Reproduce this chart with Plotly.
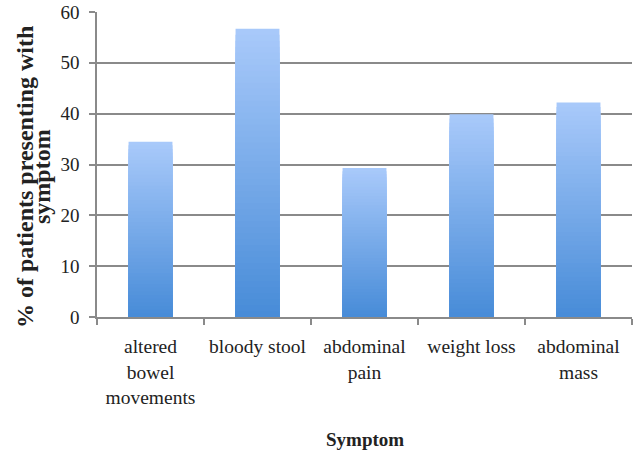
import plotly.graph_objects as go

categories = ["altered<br>bowel<br>movements", "bloody stool", "abdominal<br>pain",
              "weight loss", "abdominal<br>mass"]
values = [34.5, 56.7, 29.3, 39.9, 42.2]
y_ticks = [0, 10, 20, 30, 40, 50, 60]

y_title_lines = ["% of patients presenting with", "symptom"]
x_title = "Symptom"

TOP = (168, 201, 250)
BOTTOM = (72, 140, 216)
N = 48

def mix(t):
    return "rgb(%d,%d,%d)" % tuple(round(a + (b - a) * t) for a, b in zip(TOP, BOTTOM))

fig = go.Figure()
# main bars (full height, lightest colour at top)
fig.add_trace(go.Bar(x=categories, y=values, marker=dict(color=mix(0), line=dict(width=0)),
                     name="% of patients", showlegend=False))
# vertical gradient shading layers, per bar
for k in range(1, N):
    f = 1 - k / N
    fig.add_trace(go.Bar(x=categories, y=[v * f for v in values],
                         marker=dict(color=mix(k / (N - 1)), line=dict(width=0)),
                         hoverinfo="skip", showlegend=False))

serif = "Liberation Serif, Times New Roman, serif"
grid = "#8a8a8a"
fig.update_layout(
    width=633, height=456,
    margin=dict(l=97, r=1, t=12, b=139),
    barmode="overlay", bargap=0.59,
    plot_bgcolor="white", paper_bgcolor="white",
    font=dict(family=serif, size=19, color="#222"),
    showlegend=False,
)
fig.update_xaxes(type="category", automargin=False, showline=True, linecolor=grid, linewidth=1.5,
                 ticks="outside", tickson="boundaries", ticklen=6, tickcolor=grid, tickwidth=1.5,
                 tickangle=0, ticklabelstandoff=11,
                 tickfont=dict(family=serif, size=19.5, color="#222"))
fig.update_yaxes(range=[0, 60], automargin=False, tickvals=y_ticks, showgrid=True, gridcolor=grid,
                 gridwidth=1.5, showline=True, linecolor=grid, linewidth=1.5, zeroline=False,
                 ticks="outside", ticklen=6, tickcolor=grid, tickwidth=1.5,
                 ticklabelstandoff=6, tickfont=dict(family=serif, size=19, color="#222"))

fig.add_annotation(text=y_title_lines[0], textangle=-90, xref="paper", yref="paper",
                   x=(25 - 97) / 535, y=(317 - 177) / 305, xanchor="center", yanchor="middle",
                   showarrow=False, font=dict(family=serif, size=24, color="#222", weight="bold"))
fig.add_annotation(text=y_title_lines[1], textangle=-90, xref="paper", yref="paper",
                   x=(42 - 97) / 535, y=(317 - 177) / 305, xanchor="center", yanchor="middle",
                   showarrow=False, font=dict(family=serif, size=24, color="#222", weight="bold"))
fig.add_annotation(text=x_title, xref="paper", yref="paper", x=0.5, y=(317 - 440) / 305,
                   xanchor="center", yanchor="middle", showarrow=False,
                   font=dict(family=serif, size=19, color="#222", weight="bold"))

fig.write_html("out.html", config={"displayModeBar": False},
               post_script="document.body.style.margin='0';document.body.style.overflow='hidden';")
